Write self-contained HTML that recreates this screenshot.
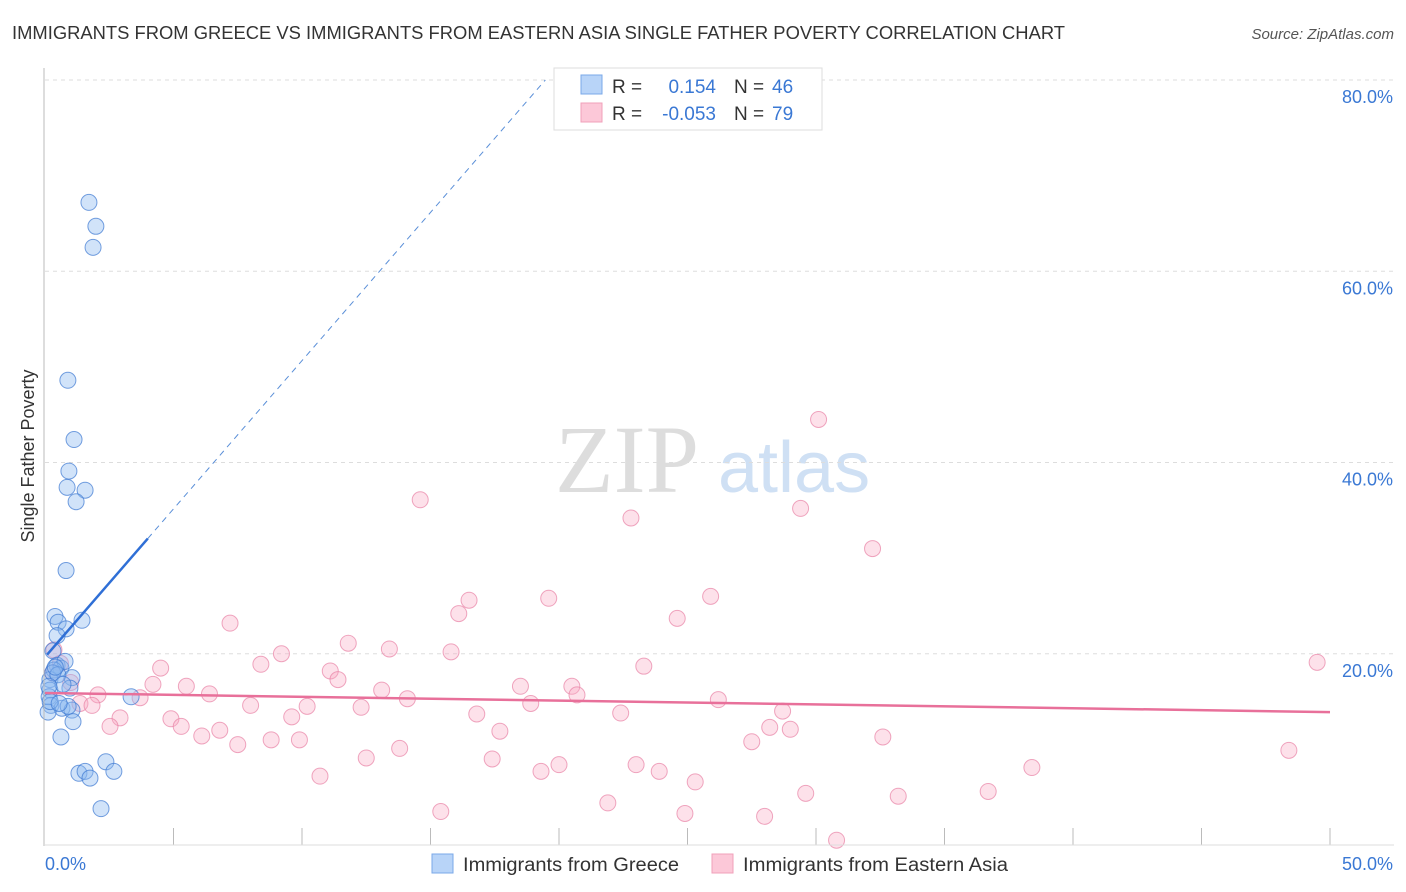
<!DOCTYPE html>
<html><head><meta charset="utf-8"><style>
body{margin:0;background:#fff;font-family:"Liberation Sans",sans-serif;}
#wrap{position:relative;width:1406px;height:892px;overflow:hidden;}
</style></head><body>
<div id="wrap">
<svg id="svg" width="1406" height="892" xmlns="http://www.w3.org/2000/svg">
<text x="12" y="39" font-size="18" fill="#333" textLength="1053" lengthAdjust="spacingAndGlyphs">IMMIGRANTS FROM GREECE VS IMMIGRANTS FROM EASTERN ASIA SINGLE FATHER POVERTY CORRELATION CHART</text>
<text x="1394" y="39" font-size="15" fill="#555" font-style="italic" text-anchor="end">Source: ZipAtlas.com</text>
<text x="34" y="456" font-size="18" fill="#333" text-anchor="middle" transform="rotate(-90 34 456)">Single Father Poverty</text>
<text x="555" y="492" font-size="96" fill="#ddd" font-family="Liberation Serif,serif">ZIP</text>
<text x="718" y="492" font-size="72" fill="#cfe0f4">atlas</text>
<g id="grid"></g><g id="pts"></g><g id="lines"></g>
<line x1="44" y1="68" x2="44" y2="846" stroke="#bbb"/>
<line x1="44" y1="845" x2="1394" y2="845" stroke="#ddd"/>
<text x="45" y="870" font-size="18" fill="#3a78d4">0.0%</text>
<text x="1393" y="870" font-size="18" fill="#3a78d4" text-anchor="end">50.0%</text>
<g>
<rect x="554" y="68" width="268" height="62" fill="#fff" stroke="#ddd"/>
<rect x="581" y="75" width="21" height="19" fill="#b8d4f8" stroke="#7aa8e8"/>
<rect x="581" y="103" width="21" height="19" fill="#fcc8d8" stroke="#f0a0ba"/>
<text x="612" y="93" font-size="19" fill="#333">R =</text><text x="716" y="93" font-size="19" fill="#3a78d4" text-anchor="end">0.154</text>
<text x="734" y="93" font-size="19" fill="#333">N =</text><text x="772" y="93" font-size="19" fill="#3a78d4">46</text>
<text x="612" y="120" font-size="19" fill="#333">R =</text><text x="716" y="120" font-size="19" fill="#3a78d4" text-anchor="end">-0.053</text>
<text x="734" y="120" font-size="19" fill="#333">N =</text><text x="772" y="120" font-size="19" fill="#3a78d4">79</text>
</g>
<g>
<rect x="432" y="854" width="21" height="19" fill="#b8d4f8" stroke="#7aa8e8"/>
<text x="463" y="871" font-size="19" fill="#333" textLength="216" lengthAdjust="spacingAndGlyphs">Immigrants from Greece</text>
<rect x="712" y="854" width="21" height="19" fill="#fcc8d8" stroke="#f0a0ba"/>
<text x="743" y="871" font-size="19" fill="#333" textLength="265" lengthAdjust="spacingAndGlyphs">Immigrants from Eastern Asia</text>
</g>
</svg></div>
<script>
const yTicks=[20,40,60,80];
const xTickVals=[5,10,15,20,25,30,35,40,45,50];
const greeceX=[1.71,1.98,1.87,0.89,1.13,0.93,0.86,1.56,1.21,0.82,0.39,1.44,0.51,0.82,0.47,0.31,0.47,0.62,0.78,0.35,0.19,1.05,0.97,0.19,0.16,0.23,0.66,1.05,0.12,3.35,1.09,0.62,2.37,2.68,1.32,1.56,1.75,2.18,0.3,0.5,0.7,0.9,0.2,0.4,0.55,0.15];
const greeceY=[67.2,64.7,62.5,48.6,42.4,39.1,37.4,37.1,35.9,28.7,23.9,23.5,23.3,22.6,21.9,20.3,18.8,18.5,19.2,18.3,17.3,17.5,16.4,16.2,15.5,14.6,14.3,14.1,13.9,15.5,12.9,11.3,8.7,7.7,7.5,7.7,7.0,3.8,18.0,17.8,16.8,14.5,15.0,18.6,14.8,16.6];
const asiaX=[30.1,14.6,22.8,29.4,32.2,16.5,19.6,25.9,16.1,7.2,24.6,11.8,13.4,9.2,15.8,0.35,4.5,8.4,23.3,49.5,11.1,11.4,4.2,5.5,18.5,20.5,13.1,6.4,20.7,2.06,3.7,14.1,26.2,1.36,1.83,8.0,10.2,12.3,18.9,28.7,16.8,22.4,4.9,9.6,2.92,5.3,2.53,17.7,28.2,29.0,6.8,6.1,8.8,9.9,32.6,7.5,27.5,13.8,48.4,17.4,12.5,20.0,23.0,19.3,23.9,38.4,10.7,25.3,36.7,29.6,33.2,21.9,15.4,24.9,28.0,30.8,0.6,1.0,0.3];
const asiaY=[44.5,36.1,34.2,35.2,31.0,25.6,25.8,26.0,24.2,23.2,23.7,21.1,20.5,20.0,20.2,20.4,18.5,18.9,18.7,19.1,18.2,17.3,16.8,16.6,16.6,16.6,16.2,15.8,15.7,15.7,15.4,15.3,15.2,14.8,14.6,14.6,14.5,14.4,14.8,14.0,13.7,13.8,13.2,13.4,13.3,12.4,12.4,11.9,12.3,12.1,12.0,11.4,11.0,11.0,11.3,10.5,10.8,10.1,9.9,9.0,9.1,8.4,8.4,7.7,7.7,8.1,7.2,6.6,5.6,5.4,5.1,4.4,3.5,3.3,3.0,0.5,19.0,17.0,18.0];
const greeceTrend=[19.65,3.1];
const asiaTrend=[15.9,-0.04];
const NS="http://www.w3.org/2000/svg";
const sx=v=>45+v/50*1285, sy=v=>845-v/80*765;
function mk(t,a,p){const e=document.createElementNS(NS,t);for(const k in a)e.setAttribute(k,a[k]);p.appendChild(e);return e;}
const grid=document.getElementById('grid'),pts=document.getElementById('pts'),lines=document.getElementById('lines');
yTicks.forEach(v=>{
 const l=mk('line',{x1:45,x2:1394,y1:sy(v),y2:sy(v),stroke:'#ddd','stroke-dasharray':'4,4'},grid);
 
 
 const t=mk('text',{x:1393,y:sy(v)+23,'font-size':18,fill:'#3a78d4','text-anchor':'end'},grid);
 t.textContent=v.toFixed(1)+'%';
 
 
});
xTickVals.forEach(v=>{
 const l=mk('line',{x1:sx(v),x2:sx(v),y1:828,y2:845,stroke:'#bbb'},grid);
 
 
});
asiaX.forEach((x,i)=>{
 const c=mk('circle',{cx:sx(x),cy:sy(asiaY[i]),r:8,fill:'rgba(248,170,195,0.35)',stroke:'rgba(232,130,165,0.7)','stroke-width':1},pts);
 
 
});
greeceX.forEach((x,i)=>{
 const c=mk('circle',{cx:sx(x),cy:sy(greeceY[i]),r:8,fill:'rgba(140,185,240,0.4)',stroke:'rgba(60,120,210,0.7)','stroke-width':1},pts);
 
 
});
const gy=x=>greeceTrend[0]+greeceTrend[1]*x;
const bx2=(80-greeceTrend[0])/greeceTrend[1];
let l=mk('line',{x1:sx(4.0),y1:sy(gy(4.0)),x2:sx(bx2),y2:sy(80),stroke:'#5a8fd8','stroke-width':1,'stroke-dasharray':'6,5'},lines);


l=mk('line',{x1:sx(0.08),y1:sy(gy(0.08)),x2:sx(4.0),y2:sy(gy(4.0)),stroke:'#2f6fd6','stroke-width':2.5},lines);


const ay=x=>asiaTrend[0]+asiaTrend[1]*x;
l=mk('line',{x1:sx(0),y1:sy(ay(0)),x2:sx(50),y2:sy(ay(50)),stroke:'#e8709a','stroke-width':2.5},lines);


</script>
</body></html>
